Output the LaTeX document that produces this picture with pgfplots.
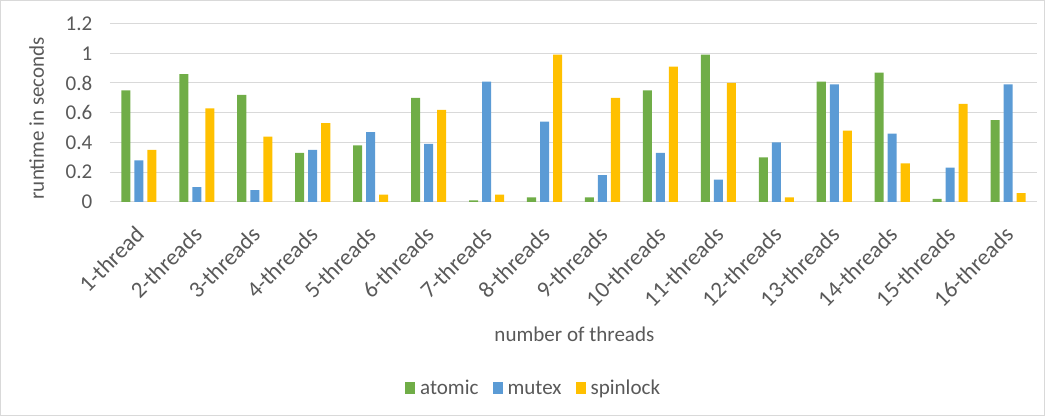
\documentclass[border=0pt]{standalone}
\usepackage{pgfplots}
\pgfplotsset{compat=1.18}
\usepackage{fontspec}
\setmainfont{Carlito}
\definecolor{cgreen}{HTML}{70AD47}
\definecolor{cblue}{HTML}{5B9BD5}
\definecolor{cgold}{HTML}{FFC000}
\definecolor{ctext}{HTML}{595959}
\definecolor{cgrid}{HTML}{D9D9D9}
\newcommand{\cfont}{\fontsize{21}{21}\selectfont}

\begin{document}
\begin{tikzpicture}
\begin{axis}[
    scale only axis,
    width=925pt, height=178pt,
    ybar=4pt, bar width=9pt,
    xmin=0.5, xmax=16.5,
    ymin=0, ymax=1.2,
    ytick={0,0.2,...,1.2},
    xtick={1,...,16},
    xticklabels={1-thread,2-threads,3-threads,4-threads,5-threads,6-threads,7-threads,8-threads,9-threads,10-threads,11-threads,12-threads,13-threads,14-threads,15-threads,16-threads},
    major tick length=0pt,
    axis x line*=bottom, axis y line*=left,
    x axis line style={cgrid, line width=1pt, -},
    y axis line style={draw=none},
    ymajorgrids, grid style={cgrid, line width=1pt},
    yticklabel style={font=\cfont, text=ctext, xshift=-14pt},
    /pgf/number format/assume math mode=true,
    yticklabel={\pgfmathprintnumber[fixed]{\tick}},
    xticklabel style={font=\fontsize{23}{23}\selectfont, text=ctext, rotate=45, anchor=east, xshift=-16pt, yshift=-21pt},
    ylabel={runtime in seconds},
    ylabel style={font=\cfont, text=ctext, at={(axis description cs:-0.079,0.47)}, anchor=center},
    xlabel={number of threads},
    xlabel style={font=\cfont, text=ctext, at={(axis description cs:0.501,-0.74)}, anchor=center},
    legend columns=3,
    legend style={at={(axis description cs:0.457,-1.045)}, anchor=center, draw=none,
        font=\cfont, text=ctext,
        /tikz/every odd column/.append style={column sep=3pt},
        /tikz/every even column/.append style={column sep=12pt}},
    legend image code/.code={\fill[#1] (0pt,-6pt) rectangle (10pt,6pt);},
    clip=false,
]
\addplot[fill=cgreen, draw=none] coordinates {
(1,0.75) (2,0.86) (3,0.72) (4,0.33) (5,0.38) (6,0.70) (7,0.01) (8,0.03)
(9,0.03) (10,0.75) (11,0.99) (12,0.30) (13,0.81) (14,0.87) (15,0.02) (16,0.55)};
\addlegendentry{atomic}
\addplot[fill=cblue, draw=none] coordinates {
(1,0.28) (2,0.10) (3,0.08) (4,0.35) (5,0.47) (6,0.39) (7,0.81) (8,0.54)
(9,0.18) (10,0.33) (11,0.15) (12,0.40) (13,0.79) (14,0.46) (15,0.23) (16,0.79)};
\addlegendentry{mutex}
\addplot[fill=cgold, draw=none] coordinates {
(1,0.35) (2,0.63) (3,0.44) (4,0.53) (5,0.05) (6,0.62) (7,0.05) (8,0.99)
(9,0.70) (10,0.91) (11,0.80) (12,0.03) (13,0.48) (14,0.26) (15,0.66) (16,0.06)};
\addlegendentry{spinlock}
\draw[cgrid, line width=1pt] (rel axis cs:-0.118,-1.197) rectangle (rel axis cs:1.008,1.129);
\end{axis}
\end{tikzpicture}
\end{document}
